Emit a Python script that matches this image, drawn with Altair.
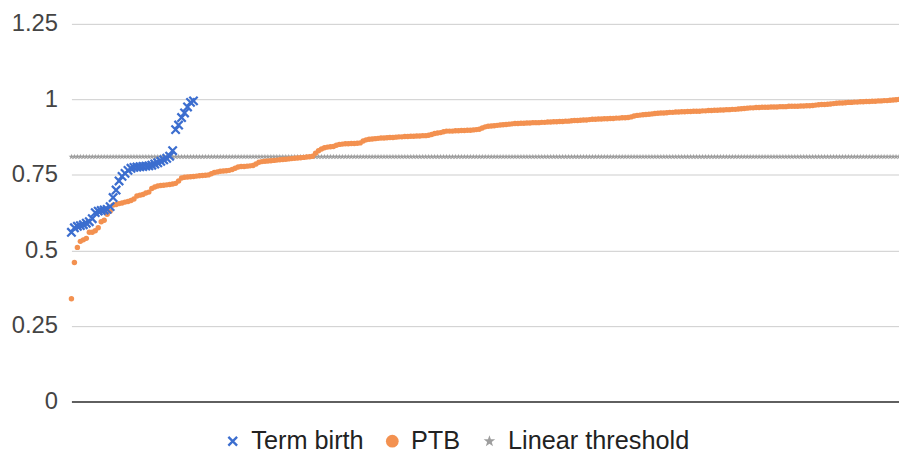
import altair as alt
import pandas as pd

# ---- data ----
series_names = ["Term birth", "PTB", "Linear threshold"]
series_colors = ["#3C6ECF", "#F39150", "#9E9E9E"]
y_ticks = [0, 0.25, 0.5, 0.75, 1, 1.25]

term_birth = [
    0.56, 0.575, 0.58, 0.582, 0.585, 0.59, 0.595, 0.605, 0.625, 0.63,
    0.632, 0.634, 0.636, 0.645, 0.675, 0.70, 0.73, 0.745, 0.755, 0.765,
    0.772, 0.775, 0.776, 0.777, 0.778, 0.779, 0.78, 0.782, 0.786, 0.79,
    0.795, 0.80, 0.805, 0.812, 0.83, 0.90, 0.915, 0.94, 0.955, 0.975,
    0.99, 0.995,
]

ptb = [
    0.34, 0.46, 0.51, 0.53, 0.535, 0.54, 0.56, 0.56, 0.565, 0.575,
    0.595, 0.60, 0.62, 0.63, 0.65, 0.652, 0.655, 0.657, 0.66, 0.662,
    0.665, 0.67, 0.68, 0.683, 0.685, 0.69, 0.693, 0.705, 0.71, 0.713,
    0.715, 0.716, 0.717, 0.718, 0.72, 0.722, 0.73, 0.74, 0.742, 0.743,
    0.744, 0.745, 0.746, 0.747, 0.748, 0.749, 0.75, 0.754, 0.758, 0.76,
    0.762, 0.763, 0.764, 0.765, 0.768, 0.772, 0.776, 0.778, 0.778, 0.779,
    0.78, 0.781, 0.786, 0.792, 0.794, 0.795, 0.796, 0.797, 0.798, 0.799,
    0.8, 0.801, 0.802, 0.803, 0.804, 0.805, 0.806, 0.807, 0.808, 0.809,
    0.81, 0.812, 0.822, 0.83, 0.836, 0.84, 0.842, 0.843, 0.844, 0.848,
    0.851, 0.852, 0.853, 0.853, 0.854, 0.854, 0.855, 0.856, 0.862, 0.866,
    0.868, 0.869, 0.87, 0.871, 0.872, 0.872, 0.873, 0.874, 0.874, 0.875,
    0.876, 0.876, 0.877, 0.877, 0.878, 0.878, 0.879, 0.879, 0.88, 0.88,
    0.881, 0.884, 0.887, 0.889, 0.89, 0.893, 0.895, 0.895, 0.895, 0.896,
    0.896, 0.897, 0.897, 0.898, 0.898, 0.899, 0.9, 0.901, 0.905, 0.909,
    0.911, 0.912, 0.913, 0.914, 0.915, 0.916, 0.917, 0.918, 0.919, 0.92,
    0.92, 0.921, 0.921, 0.922, 0.922, 0.923, 0.923, 0.923, 0.924, 0.924,
    0.925, 0.925, 0.926, 0.926, 0.927, 0.927, 0.928, 0.928, 0.929, 0.93,
    0.93, 0.931, 0.932, 0.932, 0.933, 0.934, 0.934, 0.935, 0.935, 0.936,
    0.936, 0.937, 0.937, 0.938, 0.938, 0.939, 0.939, 0.94, 0.942, 0.945,
    0.947, 0.948, 0.949, 0.95, 0.951, 0.952, 0.953, 0.954, 0.955, 0.955,
    0.956, 0.957, 0.957, 0.958, 0.958, 0.959, 0.959, 0.96, 0.96, 0.961,
    0.961, 0.961, 0.962, 0.962, 0.963, 0.963, 0.964, 0.964, 0.965, 0.965,
    0.966, 0.966, 0.967, 0.967, 0.968, 0.969, 0.97, 0.971, 0.972, 0.972,
    0.973, 0.973, 0.974, 0.974, 0.974, 0.975, 0.975, 0.975, 0.976, 0.976,
    0.976, 0.977, 0.977, 0.977, 0.977, 0.978, 0.978, 0.979, 0.979, 0.98,
    0.981, 0.982, 0.983, 0.983, 0.984, 0.985, 0.986, 0.987, 0.988, 0.988,
    0.989, 0.99, 0.99, 0.991, 0.991, 0.992, 0.992, 0.993, 0.993, 0.994,
    0.994, 0.995, 0.995, 0.996, 0.996, 0.997, 0.998, 0.999, 1.0,
]

threshold_value = 0.81

# ---- table ----
rows = []
for i in range(len(ptb)):
    rows.append({"idx": i, "value": threshold_value, "series": "Linear threshold"})
for i, v in enumerate(ptb):
    rows.append({"idx": i, "value": v, "series": "PTB"})
for i, v in enumerate(term_birth):
    rows.append({"idx": i, "value": v, "series": "Term birth"})
df = pd.DataFrame(rows)

# custom symbol paths (unit square)
x_path = "M-1,-0.68L-0.68,-1L1,0.68L0.68,1Z M0.68,-1L1,-0.68L-0.68,1L-1,0.68Z"
star_path = ("M0,-1L0.235,-0.324L0.951,-0.309L0.38,0.124L0.588,0.809L0,0.4"
             "L-0.588,0.809L-0.38,0.124L-0.951,-0.309L-0.235,-0.324Z")

FONT = "Liberation Sans"

legend = alt.Legend(
    title=None,
    orient="none",
    legendX=150,
    legendY=408,
    direction="horizontal",
    labelFont=FONT,
    labelFontSize=25.5,
    labelColor="#222222",
    labelOffset=6,
    labelLimit=400,
    columnPadding=16,
    padding=0,
    symbolStrokeWidth=0,
    symbolSize={"expr": "datum.value === 'PTB' ? 165 : (datum.value === 'Term birth' ? 110 : 150)"},
)

color_enc = alt.Color("series:N", scale=alt.Scale(domain=series_names, range=series_colors),
                      legend=legend)
shape_enc = alt.Shape("series:N", scale=alt.Scale(domain=series_names,
                                                  range=[x_path, "circle", star_path]),
                      legend=legend)
x_enc = alt.X(
    "idx:Q",
    scale=alt.Scale(domain=[0, len(ptb) - 1], nice=False, zero=False),
    axis=alt.Axis(title=None, labels=False, ticks=False, grid=False,
                  domain=True, domainColor="#333333", domainWidth=1.5),
)
y_enc = alt.Y(
    "value:Q",
    scale=alt.Scale(domain=[0, 1.25], nice=False),
    axis=alt.Axis(title=None, values=y_ticks, labelExpr="datum.value + ''", ticks=False,
                  domain=False, grid=True, gridColor="#CCCCCC", gridWidth=1,
                  labelFont=FONT, labelFontSize=24, labelColor="#444444",
                  labelPadding=14),
)

base = alt.Chart(df).encode(x=x_enc, y=y_enc, color=color_enc, shape=shape_enc)

thr_layer = base.transform_filter(alt.datum.series == "Linear threshold").mark_point(
    filled=True, opacity=1, strokeWidth=0, size=36)
ptb_layer = base.transform_filter(alt.datum.series == "PTB").mark_point(
    filled=True, opacity=1, strokeWidth=0, size=30)
term_layer = base.transform_filter(alt.datum.series == "Term birth").mark_point(
    filled=True, opacity=1, strokeWidth=0, size=100)

chart = (
    alt.layer(thr_layer, ptb_layer, term_layer)
    .properties(
        width=835,
        height=381,
        autosize=alt.AutoSizeParams(type="none"),
        padding={"left": 64, "top": 14, "right": 0, "bottom": 51},
    )
    .configure_view(stroke=None)
)

chart.save("out.html", embed_options={"renderer": "svg", "actions": False})
